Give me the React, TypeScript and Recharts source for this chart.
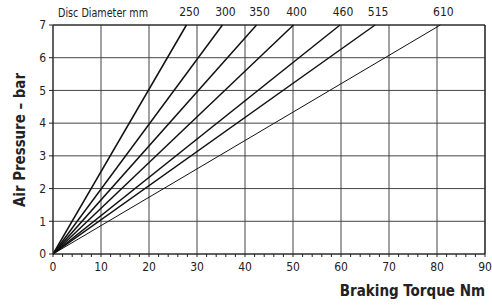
import { LineChart, Line, XAxis, YAxis, ReferenceLine } from "recharts";

const diameters = ["250", "300", "350", "400", "460", "515", "610"];
// braking torque reached at 7 bar for each disc
const torqueAt7Bar = [27.8, 35.3, 42.4, 50.1, 59.8, 67.1, 80.7];
const lineWidths = [1.5, 1.5, 1.5, 1.5, 1.5, 1.5, 1];
const xTicks = [0, 10, 20, 30, 40, 50, 60, 70, 80, 90];
const xMinorTicks = [0, 2, 4, 6, 8, 10, 12, 14, 16, 18, 20, 22, 24, 26, 28, 30, 32, 34, 36, 38, 40, 42, 44, 46, 48, 50, 52, 54, 56, 58, 60, 62, 64, 66, 68, 70, 72, 74, 76, 78, 80, 82, 84, 86, 88, 90];
const yTicks = [0, 1, 2, 3, 4, 5, 6, 7];
const maxPressure = 7;

const font = "'DejaVu Sans Condensed', 'Liberation Sans', Arial, sans-serif";

const series = diameters.map((d, i) => ({
  name: d,
  width: lineWidths[i],
  data: [
    { torque: 0, pressure: 0 },
    { torque: torqueAt7Bar[i], pressure: maxPressure },
  ],
}));

function TopLabel(props: any) {
  const { x, y, index, value } = props;
  if (index !== 1) return null;
  return (
    <text x={x + 3} y={y - 9} textAnchor="middle" fontSize={12} fontFamily={font} fill="#222">
      {value}
    </text>
  );
}

export default function App() {
  return (
    <div style={{ position: "fixed", left: 0, top: 0, background: "#fff" }}>
      <LineChart width={492} height={307} margin={{ top: 25, right: 7, left: 0, bottom: 0 }}>
        {xTicks.map((t) => (
          <ReferenceLine key={"v" + t} x={t} stroke="#444" strokeWidth={1} ifOverflow="visible" />
        ))}
        {yTicks.map((t) => (
          <ReferenceLine key={"h" + t} y={t} stroke="#444" strokeWidth={1} ifOverflow="visible" />
        ))}
        <XAxis
          dataKey="torque"
          type="number"
          domain={[0, 90]}
          ticks={xMinorTicks}
          interval={0}
          tickFormatter={(v) => (v % 10 === 0 ? String(v) : "")}
          height={53}
          tickSize={3}
          tickMargin={5}
          stroke="#222"
          tick={{ fontSize: 12, fill: "#222", fontFamily: font }}
          allowDataOverflow
        />
        <YAxis
          dataKey="pressure"
          type="number"
          domain={[0, 7]}
          ticks={yTicks}
          width={53}
          tickSize={4}
          tickMargin={3}
          stroke="#222"
          tick={{ fontSize: 12, fill: "#222", fontFamily: font }}
        />
        <ReferenceLine y={7} stroke="#222" strokeWidth={1.2} />
        <ReferenceLine x={90} stroke="#222" strokeWidth={1.2} />
        {series.map((s) => (
          <Line
            key={s.name}
            data={s.data}
            dataKey="pressure"
            name={s.name}
            stroke="#111"
            strokeWidth={s.width}
            dot={false}
            isAnimationActive={false}
            label={(p: any) => <TopLabel {...p} value={s.name} />}
          />
        ))}
        <text
          x={103}
          y={17}
          textAnchor="middle"
          fontSize={12}
          fontFamily={font}
          fill="#222"
          textLength={90}
          lengthAdjust="spacingAndGlyphs"
        >
          Disc Diameter mm
        </text>
        <text
          x={20}
          y={140}
          transform="rotate(-90 20 140)"
          textAnchor="middle"
          dominantBaseline="central"
          fontSize={15}
          fontWeight="bold"
          fontFamily={font}
          fill="#222"
          textLength={134}
          lengthAdjust="spacingAndGlyphs"
        >
          Air Pressure – bar
        </text>
        <text x={485} y={296} textAnchor="end" fontSize={15} fontWeight="bold" fontFamily={font} fill="#222">
          Braking Torque Nm
        </text>
      </LineChart>
    </div>
  );
}
